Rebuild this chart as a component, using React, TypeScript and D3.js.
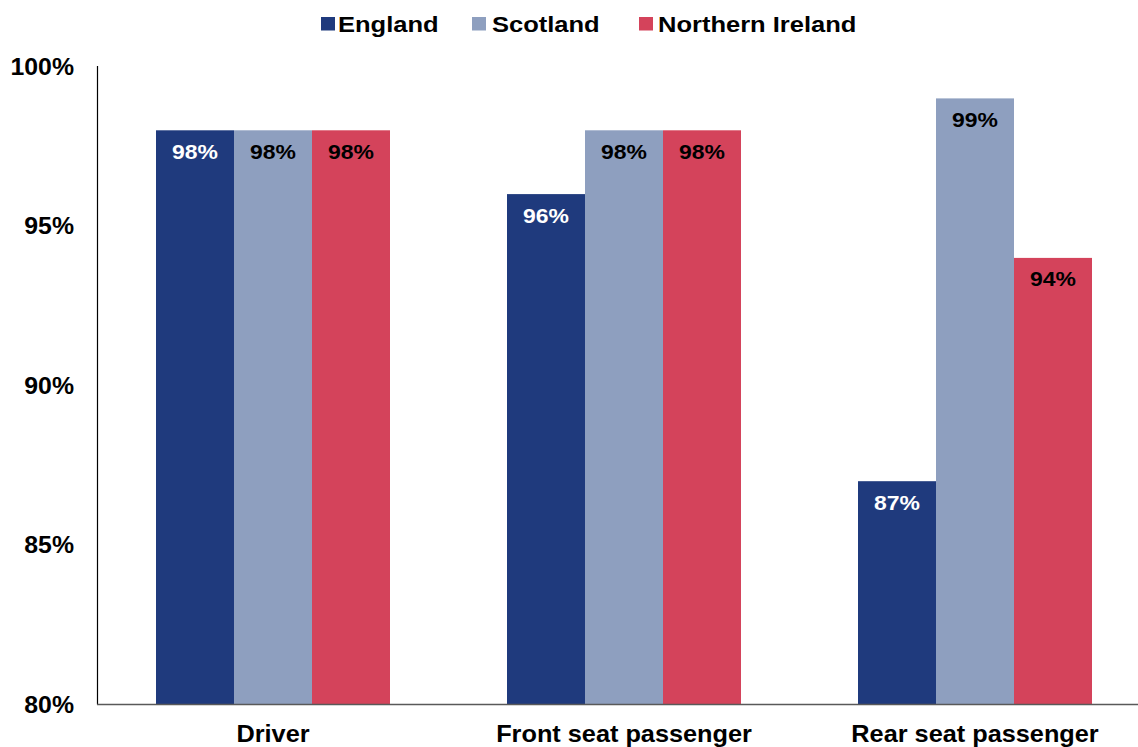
import React from "react";
import * as d3 from "d3";

const categories = ["Driver", "Front seat passenger", "Rear seat passenger"];
const seriesNames = ["England", "Scotland", "Northern Ireland"];
const england = [98, 96, 87];
const scotland = [98, 98, 99];
const northernIreland = [98, 98, 94];
const yTicks = [80, 85, 90, 95, 100];
const colors = ["#1F3A7D", "#8E9FBF", "#D4435B"];
const labelColors = ["#FFFFFF", "#000000", "#000000"];

function Txt({ x, y, anchor = "start", size, sx = 1.16, fill = "#000", children }: any) {
  return (
    <text
      transform={`translate(${x},${y}) scale(${sx},1)`}
      textAnchor={anchor}
      fontSize={size}
      fontWeight="bold"
      fill={fill}
    >
      {children}
    </text>
  );
}

export default function App() {
  const W = 1138, H = 747;
  const series = [england, scotland, northernIreland];
  const x = d3.scaleBand<string>().domain(categories).range([97.5, 1150.5]).paddingInner(1 / 3).paddingOuter(1 / 6);
  const xs = d3.scaleBand<string>().domain(seriesNames).range([0, x.bandwidth()]);
  const y = d3.scaleLinear().domain([80, 100]).range([704.5, 66.5]);
  const font = "'Liberation Sans', Arial, sans-serif";
  const legendSq = [321, 472, 639];
  const legendTx = [338, 492, 658];
  return (
    <svg width={W} height={H} style={{ position: "absolute", left: 0, top: 0, background: "#fff" }} fontFamily={font}>
      {seriesNames.map((s, i) => (
        <g key={s}>
          <rect x={legendSq[i]} y={17} width={14} height={13.5} fill={colors[i]} />
          <Txt x={legendTx[i]} y={31.7} size={22}>{s}</Txt>
        </g>
      ))}
      {yTicks.map((t) => (
        <Txt key={t} x={74} y={y(t) + 8} anchor="end" size={23} sx={1.08}>{t}%</Txt>
      ))}
      {categories.map((c, ci) => (
        <g key={c}>
          {series.map((vals, si) => {
            const bx = (x(c) as number) + (xs(seriesNames[si]) as number);
            const by = y(vals[ci]);
            return (
              <g key={si}>
                <rect x={bx} y={by} width={xs.bandwidth()} height={y(80) - by} fill={colors[si]} />
                <Txt x={bx + xs.bandwidth() / 2} y={by + 28.5} anchor="middle" size={20.5} sx={1.12} fill={labelColors[si]}>{vals[ci]}%</Txt>
              </g>
            );
          })}
          <Txt x={(x(c) as number) + x.bandwidth() / 2} y={742} anchor="middle" size={23} sx={1.1}>{c}</Txt>
        </g>
      ))}
      <line x1={97.5} x2={97.5} y1={66} y2={704.5} stroke="#000" strokeWidth={1.2} />
      <line x1={97} x2={W} y1={704.5} y2={704.5} stroke="#595959" strokeWidth={1.5} />
    </svg>
  );
}
